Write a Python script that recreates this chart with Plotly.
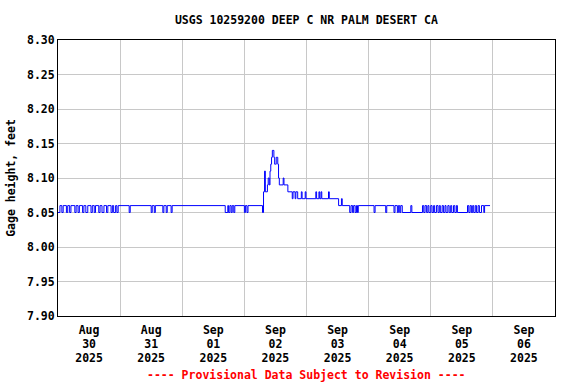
import datetime as dt
import plotly.graph_objects as go

# Step-change points: hours since 2025-08-30 00:00 and gage height (ft)
hours = [
    0.0, 0.75, 1.5, 2.0, 3.25, 3.75, 4.5, 5.0, 6.5, 7.0, 7.75, 8.25, 9.5, 10.0,
    10.75, 11.5, 12.75, 13.25, 14.0, 14.5, 15.75, 16.25, 17.0, 17.75, 18.75,
    19.25, 20.5, 21.0, 21.5, 22.25, 22.75, 23.25,
    27.5, 27.9, 36.0, 36.4, 37.2, 37.6, 40.5, 40.9, 41.8, 42.2, 43.7, 44.1,
    64.6, 65.6, 65.9, 66.4, 66.9, 67.3, 67.9, 68.3, 72.0, 72.4, 73.0, 73.4,
    79.0, 79.4, 79.8, 80.1, 80.9, 81.2, 81.6, 81.9, 82.2, 82.5, 82.8, 83.4,
    83.7, 84.0, 84.3, 84.9, 85.2, 85.5, 87.0, 87.3, 88.8, 90.5, 90.8, 91.6,
    91.9, 92.6, 94.0, 94.3, 95.5, 95.8, 99.6, 99.9, 100.8, 101.1, 101.6, 101.9,
    104.5, 104.8, 108.4, 109.5, 109.8,
    112.7, 113.2, 113.8, 114.2, 114.8, 115.3, 115.7, 116.0,
    122.1, 122.5, 126.6, 127.0, 129.8, 130.2, 131.1, 131.5, 132.0, 132.4,
    133.0, 136.3, 136.7,
    140.8, 141.3, 141.8, 142.4, 142.9, 143.3, 144.0, 144.5, 145.1, 145.5,
    146.2, 146.8, 147.3, 147.7, 148.4, 148.9, 149.5, 149.9, 150.6, 151.1,
    151.7, 152.1, 152.8, 153.3, 153.9, 154.3, 154.9,
    158.2, 158.7, 159.2, 159.7, 160.2, 160.6, 161.2, 161.7, 162.3, 162.8,
    163.6, 164.5, 164.8, 166.9,
]
values = [
    8.05, 8.06, 8.05, 8.06, 8.05, 8.06, 8.05, 8.06, 8.05, 8.06, 8.05, 8.06, 8.05, 8.06,
    8.05, 8.06, 8.05, 8.06, 8.05, 8.06, 8.05, 8.06, 8.05, 8.06, 8.05,
    8.06, 8.05, 8.06, 8.05, 8.06, 8.05, 8.06,
    8.05, 8.06, 8.05, 8.06, 8.05, 8.06, 8.05, 8.06, 8.05, 8.06, 8.05, 8.06,
    8.05, 8.06, 8.05, 8.06, 8.05, 8.06, 8.05, 8.06, 8.05, 8.06, 8.05, 8.06,
    8.05, 8.08, 8.11, 8.08, 8.09, 8.10, 8.09, 8.11, 8.12, 8.13, 8.14, 8.13,
    8.12, 8.12, 8.13, 8.12, 8.10, 8.09, 8.10, 8.09, 8.08, 8.07, 8.08, 8.07,
    8.08, 8.07, 8.08, 8.07, 8.08, 8.07, 8.08, 8.07, 8.08, 8.07, 8.08, 8.07,
    8.08, 8.07, 8.06, 8.07, 8.06,
    8.05, 8.06, 8.05, 8.06, 8.05, 8.06, 8.05, 8.06,
    8.05, 8.06, 8.05, 8.06, 8.05, 8.06, 8.05, 8.06, 8.05, 8.06,
    8.05, 8.06, 8.05,
    8.06, 8.05, 8.06, 8.05, 8.06, 8.05, 8.06, 8.05, 8.06, 8.05,
    8.06, 8.05, 8.06, 8.05, 8.06, 8.05, 8.06, 8.05, 8.06, 8.05,
    8.06, 8.05, 8.06, 8.05, 8.06, 8.05, 8.05,
    8.06, 8.05, 8.06, 8.05, 8.06, 8.05, 8.06, 8.05, 8.06, 8.05,
    8.06, 8.05, 8.06, 8.06,
]

day_ticks = ["2025-08-30 12:00", "2025-08-31 12:00", "2025-09-01 12:00", "2025-09-02 12:00",
             "2025-09-03 12:00", "2025-09-04 12:00", "2025-09-05 12:00", "2025-09-06 12:00"]
month_labels = ["Aug", "Aug", "Sep", "Sep", "Sep", "Sep", "Sep", "Sep"]
day_labels = ["30", "31", "01", "02", "03", "04", "05", "06"]
year_labels = ["2025"] * 8
y_ticks = [7.90, 7.95, 8.00, 8.05, 8.10, 8.15, 8.20, 8.25, 8.30]

base = dt.datetime(2025, 8, 30)
times = [base + dt.timedelta(hours=h) for h in hours]
x_range = ["2025-08-30 00:00", "2025-09-07 00:00"]

FONT = dict(family="DejaVu Sans Mono", size=11.5, color="black", weight="bold")

fig = go.Figure()
fig.add_trace(go.Scatter(x=times, y=values, mode="lines", line=dict(color="#0000ff", width=1, shape="hv"),
                         showlegend=False, hoverinfo="x+y"))
# empty traces so the label-row axes exist
fig.add_trace(go.Scatter(x=[], y=[], xaxis="x2", showlegend=False, hoverinfo="skip"))
fig.add_trace(go.Scatter(x=[], y=[], xaxis="x3", showlegend=False, hoverinfo="skip"))

label_axis = dict(range=x_range, type="date", overlaying="x", anchor="y", side="bottom",
                  tickmode="array", tickvals=day_ticks, ticks="", showgrid=False,
                  showline=False, zeroline=False, tickfont=FONT)

fig.update_layout(
    width=576, height=384,
    margin=dict(l=58, r=21, t=40, b=68),
    paper_bgcolor="white", plot_bgcolor="white",
    font=FONT,
    title=dict(text="USGS 10259200 DEEP C NR PALM DESERT CA", x=0.532, xanchor="center",
               y=1 - 20 / 384, yanchor="middle", yref="container", font=FONT),
    annotations=[dict(text="---- Provisional Data Subject to Revision ----", xref="paper", yref="paper",
                      x=0.5, y=0, yshift=-59, xanchor="center", yanchor="middle", showarrow=False,
                      font=dict(family="DejaVu Sans Mono", size=11.5, color="red", weight="bold"))],
    xaxis2=dict(label_axis, ticktext=day_labels, ticklabelstandoff=19),
    xaxis3=dict(label_axis, ticktext=year_labels, ticklabelstandoff=33),
)
fig.layout.xaxis.update(
    range=x_range, type="date",
    tickmode="array", tickvals=day_ticks, ticktext=month_labels, ticks="", showgrid=False,
    ticklabelstandoff=3,
    minor=dict(dtick=86400000, tick0="2025-08-30", showgrid=True, gridcolor="#c8c8c8", gridwidth=1, ticks=""),
    showline=True, linecolor="black", linewidth=1, mirror=True, zeroline=False,
    tickfont=FONT,
)
fig.update_yaxes(
    range=[7.90, 8.30], tickmode="array", tickvals=y_ticks, tickformat=".2f",
    showgrid=True, gridcolor="#c8c8c8", gridwidth=1, ticks="",
    showline=True, linecolor="black", linewidth=1, mirror=True, zeroline=False,
    title=dict(text="Gage height, feet", font=FONT, standoff=8), tickfont=FONT,
)

fig.write_html("out.html", config={"displayModeBar": False},
               post_script="document.body.style.margin='0';")
